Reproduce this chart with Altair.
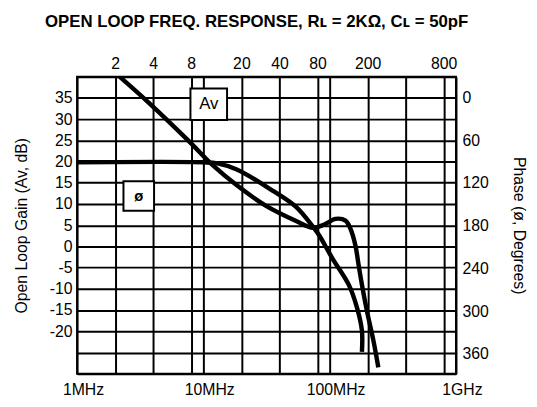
import altair as alt
import pandas as pd

# Open-loop gain curve (frequency in MHz, gain in dB)
av_freq = [2.17, 3.65, 7.5, 12.1, 18.4, 31.6, 54.2, 73.6, 89.8, 111.4, 133.4, 145.9, 159.7, 169.4, 180.0, 197.2, 222.0, 242.7]
av_gain = [40.0, 34.0, 25.1, 18.9, 14.4, 9.5, 6.0, 4.4, 5.1, 6.5, 6.1, 4.2, 0.3, -4.35, -9.0, -15.2, -22.2, -28.5]

# Phase curve (frequency in MHz, phase in degrees)
ph_freq = [1, 10, 12.9, 18.4, 35.9, 54.2, 73.6, 82.5, 105.0, 141.5, 164.5, 180.0, 180.0]
ph_deg = [91, 91, 92.5, 101, 131.5, 153.7, 181.4, 193.4, 225.7, 262.7, 294.9, 327.2, 357.2]

# Axis values
grid_freq = [1, 2, 4, 8, 10, 20, 40, 80, 100, 200, 400, 800, 1000]
top_labels = [2, 4, 8, 20, 40, 80, 200, 800]
bottom_values = [1, 10, 100, 1000]
bottom_texts = ["1MHz", "10MHz", "100MHz", "1GHz"]
gain_grid = list(range(-30, 41, 5))
phase_labels = [0, 60, 120, 180, 240, 300, 360]

# Curve label boxes (data coordinates: MHz, dB)
box_text = ["Av", "ø"]
box_f0 = [7.9, 2.33]
box_f1 = [15.4, 4.07]
box_g0 = [29.8, 8.4]
box_g1 = [37.2, 15.35]

av_df = pd.DataFrame({"f": av_freq, "g": av_gain, "i": range(len(av_freq))})
ph_df = pd.DataFrame({"f": ph_freq, "p": ph_deg, "i": range(len(ph_freq))})
box_df = pd.DataFrame({
    "t": box_text, "f0": box_f0, "f1": box_f1, "g0": box_g0, "g1": box_g1,
})
box_df["fc"] = (box_df["f0"] * box_df["f1"]) ** 0.5
box_df["gc"] = (box_df["g0"] + box_df["g1"]) / 2

FONT = "Liberation Sans"

bottom_expr = " : ".join(
    f"datum.value == {v} ? '{t}'" for v, t in zip(bottom_values, bottom_texts)
) + " : ''"

x_scale = alt.Scale(type="log", domain=[1, 1000], nice=False)
gain_scale = alt.Scale(domain=[-30, 40], nice=False, zero=False)
phase_scale = alt.Scale(domain=[-29.1, 387.7], nice=False, zero=False, reverse=True)

x_bottom = alt.Axis(
    orient="bottom", values=grid_freq, labelExpr=bottom_expr, grid=True,
    ticks=False, domain=False, title=None, labelPadding=8, labelFontSize=16,
    labelFont=FONT, labelColor="black", labelFlush=False, labelOverlap=False,
    labelOffset=6,
)
gain_axis = alt.Axis(
    orient="left", values=gain_grid,
    labelExpr="datum.value >= -20 && datum.value <= 35 ? datum.value : ''",
    grid=True, ticks=False, domain=False, title="Open Loop Gain (Av, dB)",
    labelPadding=5, labelFontSize=16, labelFont=FONT, labelColor="black",
    titleFont=FONT, titleFontSize=16, titleFontWeight="normal", titleColor="black",
    titlePadding=20, labelOverlap=False, labelFlush=False,
)
x_top = alt.Axis(
    orient="top", values=top_labels, grid=False, ticks=False, domain=False,
    title=None, labelPadding=5, labelFontSize=16, labelFont=FONT,
    labelColor="black", labelFlush=False, labelOverlap=False,
)
phase_axis = alt.Axis(
    orient="right", values=phase_labels, grid=False, ticks=False, domain=False,
    title="Phase (ø, Degrees)", labelPadding=6, labelFontSize=16, labelFont=FONT,
    labelColor="black", titleFont=FONT, titleFontSize=16, titleFontWeight="normal",
    titleColor="black", titlePadding=23, labelOverlap=False, labelFlush=False,
)

av_line = alt.Chart(av_df).mark_line(
    color="black", strokeWidth=4.5, interpolate="catmull-rom", clip=True
).encode(
    x=alt.X("f:Q", scale=x_scale, axis=x_bottom),
    y=alt.Y("g:Q", scale=gain_scale, axis=gain_axis),
    order="i:Q",
)

boxes = alt.Chart(box_df).mark_rect(
    fill="white", stroke="black", strokeWidth=2
).encode(
    x=alt.X("f0:Q", scale=x_scale, axis=x_bottom),
    x2="f1:Q",
    y=alt.Y("g0:Q", scale=gain_scale, axis=gain_axis),
    y2="g1:Q",
)

label_enc = dict(
    x=alt.X("fc:Q", scale=x_scale, axis=x_bottom),
    y=alt.Y("gc:Q", scale=gain_scale, axis=gain_axis),
    text="t:N",
)
av_label = alt.Chart(box_df).transform_filter("datum.t == 'Av'").mark_text(
    font=FONT, color="black", align="center", baseline="middle", fontSize=17
).encode(**label_enc)
ph_label = alt.Chart(box_df).transform_filter("datum.t != 'Av'").mark_text(
    font=FONT, color="black", align="center", baseline="middle", fontSize=15,
    fontWeight="bold"
).encode(**label_enc)

gain_layer = alt.layer(boxes, av_label, ph_label, av_line)

ph_line = alt.Chart(ph_df).mark_line(
    color="black", strokeWidth=4.5, interpolate="catmull-rom", clip=True
).encode(
    x=alt.X("f:Q", scale=x_scale, axis=x_top),
    y=alt.Y("p:Q", scale=phase_scale, axis=phase_axis),
    order="i:Q",
)

chart = alt.layer(gain_layer, ph_line).resolve_scale(
    y="independent"
).resolve_axis(
    x="independent", y="independent"
).properties(
    width=384, height=301,
    padding={"left": 70, "top": 67, "right": 74, "bottom": 23},
    autosize=alt.AutoSizeParams(type="none"),
    title=alt.TitleParams(
        text="OPEN LOOP FREQ. RESPONSE, Rʟ = 2KΩ, Cʟ = 50pF",
        font=FONT,
        fontSize=17, fontWeight="bold", color="black", anchor="middle",
        offset=25, dx=-10,
    ),
).configure_view(
    stroke="black", strokeWidth=2
).configure_axis(
    gridColor="black", gridWidth=2, gridOpacity=1
)

chart.save("out.html", embed_options={"renderer": "svg", "actions": False})
